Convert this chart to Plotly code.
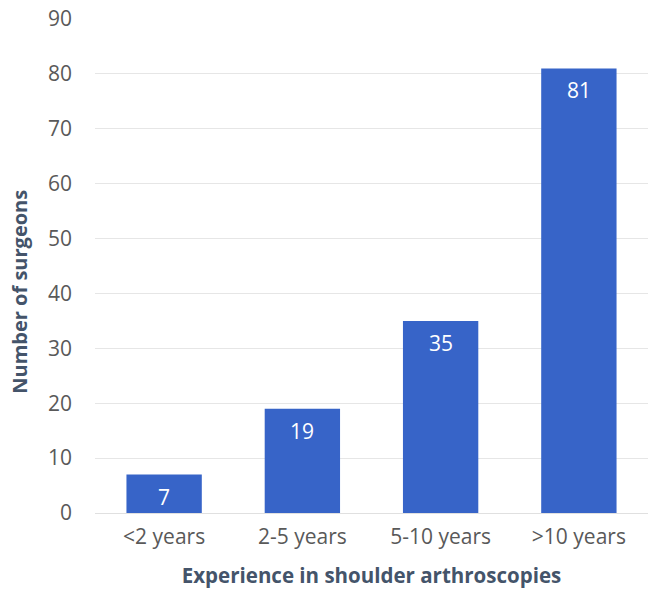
import plotly.graph_objects as go

categories = ["<2 years", "2-5 years", "5-10 years", ">10 years"]
surgeons = [7, 19, 35, 81]
y_ticks = list(range(0, 91, 10))

FONT = "Open Sans"

fig = go.Figure(go.Bar(
    x=categories,
    y=surgeons,
    marker=dict(color="#3764c8", line=dict(width=0)),
    width=0.545,
))

for c, v in zip(categories, surgeons):
    fig.add_annotation(
        x=c, y=v, text=str(v), showarrow=False,
        yanchor="middle", yshift=-22,
        font=dict(family=FONT, size=21, color="white"),
    )

# y-axis title (placed slightly below the plot centre, as in the reference)
fig.add_annotation(
    xref="paper", yref="paper", x=-0.1356, y=0.448,
    xanchor="center", yanchor="middle", textangle=-90,
    text="<b>Number of surgeons</b>", showarrow=False,
    font=dict(family=FONT, size=20, color="#44546a"),
)

fig.update_layout(
    width=650, height=593,
    margin=dict(l=95, r=2, t=19, b=80),
    plot_bgcolor="white", paper_bgcolor="white",
    showlegend=False,
    font=dict(family=FONT, size=21, color="#595959"),
    xaxis=dict(
        title=dict(text="<b>Experience in shoulder arthroscopies</b>",
                   font=dict(family=FONT, size=20.5, color="#44546a"), standoff=19),
        tickfont=dict(family=FONT, size=21, color="#595959"),
        showgrid=False, showline=False, ticks="",
        ticklabelstandoff=9,
    ),
    yaxis=dict(
        range=[0, 90],
        tickvals=y_ticks,
        tickfont=dict(family=FONT, size=21, color="#595959"),
        gridcolor="#e6e6e6", gridwidth=1,
        zeroline=True, zerolinecolor="#e0e0e0", zerolinewidth=1,
        showline=False, ticks="",
        ticklabelstandoff=22,
    ),
)

fig.write_html("out.html")
